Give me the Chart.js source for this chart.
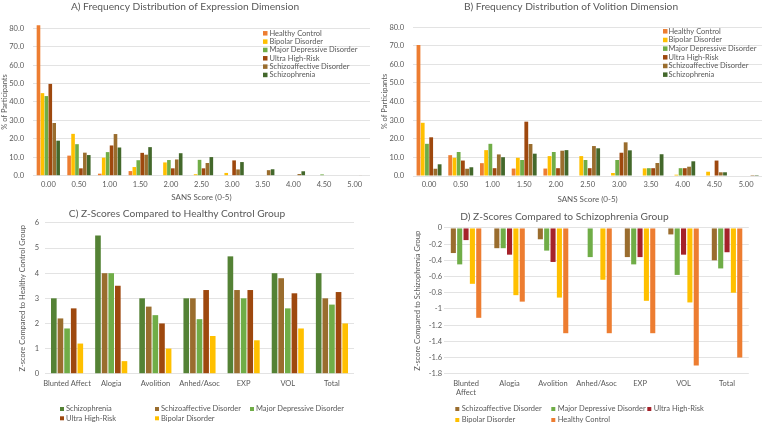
<!DOCTYPE html>
<html>
<head>
<meta charset="utf-8">
<script src="https://cdn.jsdelivr.net/npm/chart.js@4.4.1/dist/chart.umd.min.js"></script>
<style>
  html, body { margin: 0; padding: 0; background: #fff; }
  #wrap { position: relative; width: 763px; height: 425px; overflow: hidden; }
  #wrap canvas { position: absolute; }
</style>
</head>
<body>
<div id="wrap">
  <canvas id="chartA" width="374" height="210" style="left:0;top:0"></canvas>
  <canvas id="chartB" width="388" height="210" style="left:380px;top:0"></canvas>
  <canvas id="chartC" width="388" height="225" style="left:0;top:200px"></canvas>
  <canvas id="chartD" width="407" height="225" style="left:380px;top:200px"></canvas>
</div>
<script>
// categories
const sansScores = ['0.00', '0.50', '1.00', '1.50', '2.00', '2.50', '3.00', '3.50', '4.00', '4.50', '5.00'];
const zDomains = ['Blunted Affect', 'Alogia', 'Avolition', 'Anhed/Asoc', 'EXP', 'VOL', 'Total'];

// tick labels
const pctTicks = [0, 10, 20, 30, 40, 50, 60, 70, 80];
const zhcTicks = [0, 1, 2, 3, 4, 5, 6];
const zszTicks = [0, -0.2, -0.4, -0.6, -0.8, -1, -1.2, -1.4, -1.6, -1.8];

// A) Expression dimension, % of participants
const expHealthy   = [81.6, 10.9, 1.1, 2.5, 0, 0, 0, 0, 0, 0, 0];
const expBipolar   = [44.8, 22.7, 9.8, 4.7, 7.2, 0.8, 1.5, 0, 0, 0, 0];
const expMDD       = [43.2, 17.1, 12.8, 8.4, 8.5, 8.6, 0, 0, 0, 0.7, 0];
const expUHR       = [49.8, 4.0, 16.4, 12.4, 4.0, 4.0, 8.3, 0, 0, 0, 0];
const expSchizoaff = [28.6, 12.5, 22.6, 11.4, 8.8, 6.9, 3.4, 3.0, 0.9, 0, 0.3];
const expSchizo    = [19.0, 11.2, 15.3, 15.5, 12.2, 10.1, 7.4, 3.5, 2.4, 0, 0];

// B) Volition dimension, % of participants
const volHealthy   = [70.4, 11.2, 6.9, 4.0, 4.0, 0, 0, 0, 0, 0, 0];
const volBipolar   = [28.6, 9.8, 13.9, 9.8, 10.7, 10.7, 1.6, 4.1, 0.7, 2.3, 0];
const volMDD       = [17.3, 12.9, 17.3, 8.6, 12.9, 8.6, 8.6, 4.2, 4.2, 0, 0];
const volUHR       = [20.8, 8.3, 4.2, 29.2, 4.2, 4.2, 12.5, 4.2, 4.2, 8.3, 0];
const volSchizoaff = [3.9, 3.9, 11.6, 17.2, 13.6, 16.1, 18.1, 7.0, 5.0, 2.0, 0.5];
const volSchizo    = [6.3, 4.7, 10.1, 12.0, 13.9, 14.9, 13.8, 11.7, 7.9, 2.0, 0.5];

// C) z-scores vs healthy control
const zhcSchizo    = [3.0, 5.5, 3.0, 3.0, 4.67, 4.0, 4.0];
const zhcSchizoaff = [2.2, 4.0, 2.67, 3.0, 3.33, 3.8, 3.0];
const zhcMDD       = [1.8, 4.0, 2.33, 2.17, 3.0, 2.6, 2.75];
const zhcUHR       = [2.6, 3.5, 2.0, 3.33, 3.33, 3.2, 3.25];
const zhcBipolar   = [1.2, 0.5, 1.0, 1.5, 1.33, 1.8, 2.0];

// D) z-scores vs schizophrenia
const zszSchizoaff = [-0.31, -0.25, -0.14, 0, -0.36, -0.08, -0.40];
const zszMDD       = [-0.45, -0.25, -0.28, -0.36, -0.45, -0.58, -0.50];
const zszUHR       = [-0.15, -0.33, -0.42, 0, -0.36, -0.33, -0.30];
const zszBipolar   = [-0.69, -0.83, -0.86, -0.64, -0.90, -0.92, -0.80];
const zszHealthy   = [-1.11, -0.91, -1.30, -1.30, -1.30, -1.70, -1.60];

const colors = {
  healthy: '#ED7D31',
  bipolar: '#FFC000',
  mdd: '#70AD47',
  uhr: '#9E480E',
  uhrRed: '#A5222A',
  schizoaff: '#9A6D2E',
  schizo: '#43682B',
  schizoC: '#548235'
};

Chart.defaults.font.family = 'Lato';
Chart.defaults.color = '#595959';

// Excel-like legend laid out in a grid of columns / rows
const gridLegend = {
  id: 'gridLegend',
  afterDraw(chart, args, opts) {
    const ctx = chart.ctx;
    ctx.save();
    ctx.font = opts.size + 'px Lato';
    ctx.textBaseline = 'middle';
    ctx.textAlign = 'left';
    chart.data.datasets.forEach((ds, i) => {
      const col = i % opts.cols, row = Math.floor(i / opts.cols);
      const x = opts.x + col * opts.colW, y = opts.y + row * opts.rowH;
      ctx.fillStyle = ds.backgroundColor;
      ctx.fillRect(x, y - opts.box / 2, opts.box, opts.box);
      ctx.fillStyle = '#595959';
      ctx.fillText(ds.label, x + opts.box + opts.gap, y);
    });
    ctx.restore();
  }
};

function series(label, data, color) {
  return { label, data, backgroundColor: color, borderWidth: 0, clip: false };
}

function barOptions(o) {
  return {
    responsive: false,
    animation: false,
    layout: { padding: { left: 0, top: 0, bottom: 0, right: o.padRight } },
    datasets: { bar: { categoryPercentage: o.catPct, barPercentage: o.barPct } },
    plugins: {
      legend: { display: false },
      tooltip: { enabled: false },
      title: {
        display: true,
        text: o.title,
        color: '#595959',
        font: { size: 10.2, weight: 'normal' },
        padding: o.titlePad
      },
      gridLegend: o.legend
    },
    scales: {
      x: {
        grid: { display: false, drawTicks: false },
        border: { display: false },
        ticks: { font: { size: 7.5 }, padding: o.xPad, maxRotation: 0, autoSkip: false },
        title: o.xTitle
          ? { display: true, text: o.xTitle, font: { size: 8 }, padding: { top: 0, bottom: o.xTitlePad } }
          : { display: false },
        afterFit: s => { s.height = o.xHeight; }
      },
      y: {
        min: o.min,
        max: o.max,
        grid: { color: '#E3E3E3', drawTicks: false },
        border: { display: false },
        ticks: { font: { size: 7.5 }, padding: o.yPad, callback: o.fmt },
        afterBuildTicks: s => { s.ticks = o.ticks.map(v => ({ value: v })); },
        title: { display: true, text: o.yTitle, font: { size: 7.5 }, padding: { top: o.yTitleOff, bottom: 0 } },
        afterFit: s => { s.width = o.yWidth; }
      }
    }
  };
}

const fmtPct = v => v.toFixed(1);
const fmtZ = v => String(Math.round(v * 10) / 10);

// A
new Chart(document.getElementById('chartA'), {
  type: 'bar',
  data: {
    labels: sansScores,
    datasets: [
      series('Healthy Control', expHealthy, colors.healthy),
      series('Bipolar Disorder', expBipolar, colors.bipolar),
      series('Major Depressive Disorder', expMDD, colors.mdd),
      series('Ultra High-Risk', expUHR, colors.uhr),
      series('Schizoaffective Disorder', expSchizoaff, colors.schizoaff),
      series('Schizophrenia', expSchizo, colors.schizo)
    ]
  },
  options: barOptions({
    title: 'A) Frequency Distribution of Expression Dimension',
    titlePad: { top: 1, bottom: 15 },
    padRight: 4, yWidth: 33, yPad: 9, yTitle: '% of Participants', yTitleOff: 0,
    xHeight: 34.3, xPad: 4, xTitle: 'SANS Score (0-5)', xTitlePad: 7.5,
    min: 0, max: 80, ticks: pctTicks, fmt: fmtPct,
    catPct: 0.77, barPct: 0.92,
    legend: { x: 263, y: 33.3, cols: 1, colW: 0, rowH: 8.33, box: 4.5, gap: 2, size: 7.5 }
  }),
  plugins: [gridLegend]
});

// B
new Chart(document.getElementById('chartB'), {
  type: 'bar',
  data: {
    labels: sansScores,
    datasets: [
      series('Healthy Control', volHealthy, colors.healthy),
      series('Bipolar Disorder', volBipolar, colors.bipolar),
      series('Major Depressive Disorder', volMDD, colors.mdd),
      series('Ultra High-Risk', volUHR, colors.uhr),
      series('Schizoaffective Disorder', volSchizoaff, colors.schizoaff),
      series('Schizophrenia', volSchizo, colors.schizo)
    ]
  },
  options: barOptions({
    title: 'B) Frequency Distribution of Volition Dimension',
    titlePad: { top: 0.4, bottom: 14.5 },
    padRight: 6, yWidth: 33.2, yPad: 9, yTitle: '% of Participants', yTitleOff: 0,
    xHeight: 34, xPad: 4.5, xTitle: 'SANS Score (0-5)', xTitlePad: 5.9,
    min: 0, max: 80, ticks: pctTicks, fmt: fmtPct,
    catPct: 0.8, barPct: 0.9,
    legend: { x: 283, y: 31.3, cols: 1, colW: 0, rowH: 8.67, box: 4.5, gap: 1, size: 7.5 }
  }),
  plugins: [gridLegend]
});

// C
new Chart(document.getElementById('chartC'), {
  type: 'bar',
  data: {
    labels: zDomains,
    datasets: [
      series('Schizophrenia', zhcSchizo, colors.schizoC),
      series('Schizoaffective Disorder', zhcSchizoaff, colors.schizoaff),
      series('Major Depressive Disorder', zhcMDD, colors.mdd),
      series('Ultra High-Risk', zhcUHR, colors.uhr),
      series('Bipolar Disorder', zhcBipolar, colors.bipolar)
    ]
  },
  options: barOptions({
    title: 'C) Z-Scores Compared to Healthy Control Group',
    titlePad: { top: 7.7, bottom: 3 },
    padRight: 34, yWidth: 45, yPad: 6, yTitle: 'Z-score Compared to Healthy Control Group', yTitleOff: 18.5,
    xHeight: 51.3, xPad: 5.5,
    min: 0, max: 6, ticks: zhcTicks, fmt: fmtZ,
    catPct: 0.75, barPct: 0.85,
    legend: { x: 60, y: 209, cols: 3, colW: 95, rowH: 9.3, box: 4, gap: 2, size: 7.5 }
  }),
  plugins: [gridLegend]
});

// D
new Chart(document.getElementById('chartD'), {
  type: 'bar',
  data: {
    labels: zDomains.map(d => d === 'Blunted Affect' ? d.split(' ') : d),
    datasets: [
      series('Schizoaffective Disorder', zszSchizoaff, colors.schizoaff),
      series('Major Depressive Disorder', zszMDD, colors.mdd),
      series('Ultra High-Risk', zszUHR, colors.uhrRed),
      series('Bipolar Disorder', zszBipolar, colors.bipolar),
      series('Healthy Control', zszHealthy, colors.healthy)
    ]
  },
  options: barOptions({
    title: 'D) Z-Scores Compared to Schizophrenia Group',
    titlePad: { top: 11, bottom: 4.7 },
    padRight: 38.2, yWidth: 64.3, yPad: 2.3, yTitle: 'Z-score Compared to Schizophrenia Group', yTitleOff: 33.5,
    xHeight: 51.3, xPad: 5.5,
    min: -1.8, max: 0, ticks: zszTicks, fmt: fmtZ,
    catPct: 0.73, barPct: 0.8,
    legend: { x: 75.3, y: 209, cols: 3, colW: 96, rowH: 11, box: 4, gap: 2.4, size: 7.5 }
  }),
  plugins: [gridLegend]
});
</script>
</body>
</html>
